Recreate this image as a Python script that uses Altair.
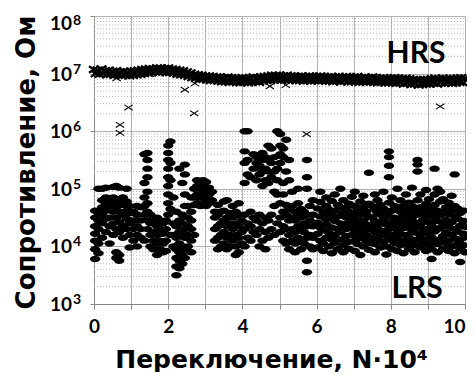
import altair as alt
import pandas as pd

# ---------------- data ----------------
# LRS: columns of points (cycle N·10^4, list of log10 R)
lrs_cols = [
    (0.03, [3.78, 3.95, 4.1, 4.22, 4.35, 4.5, 4.62]),
    (0.12, [3.88, 4.05, 4.3, 4.45, 4.58, 5.0]),
    (0.22, [4.15, 4.4, 4.55, 4.68, 4.8, 5.0]),
    (0.32, [4.25, 4.48, 4.62, 4.75, 4.85, 5.02]),
    (0.42, [4.05, 4.35, 4.5, 4.7, 4.82]),
    (0.52, [4.2, 4.4, 4.6, 4.75, 4.85, 5.03]),
    (0.60, [3.8, 3.9, 4.3, 4.5, 4.68, 4.8, 5.05]),
    (0.68, [3.75, 3.85, 4.25, 4.42, 4.6, 4.78, 5.02]),
    (0.78, [4.15, 4.35, 4.55, 4.72, 4.85]),
    (0.88, [4.3, 4.48, 4.62, 4.78, 5.0]),
    (0.96, [3.98, 4.2, 4.4, 4.58, 4.7]),
    (1.06, [4.1, 4.3, 4.45, 4.6]),
    (1.16, [4.0, 4.2, 4.35, 4.55, 4.7]),
    (1.26, [4.15, 4.3, 4.45, 4.68]),
    (1.36, [4.1, 4.55, 4.7, 4.85, 5.1, 5.6]),
    (1.44, [4.3, 4.45, 4.6, 4.75, 4.95, 5.2, 5.35, 5.5, 5.62]),
    (1.52, [4.0, 4.2, 4.4, 4.55]),
    (1.60, [3.95, 4.1, 4.25, 4.45]),
    (1.70, [3.85, 4.05, 4.2, 4.35, 4.5]),
    (1.78, [3.95, 4.1, 4.3, 4.45]),
    (1.86, [3.9, 4.05, 4.22, 4.4]),
    (1.94, [3.92, 4.1, 4.3, 4.45]),
    (2.00, [4.55, 4.75, 4.9, 5.05, 5.2, 5.35, 5.5, 5.62, 5.75]),
    (2.06, [4.2, 4.65, 5.15, 5.45, 5.82]),
    (2.14, [4.0, 4.2, 4.4, 4.85]),
    (2.22, [3.5, 3.65, 3.8, 3.95, 4.15, 4.35, 4.6]),
    (2.30, [3.62, 3.75, 3.9, 4.05, 4.25, 4.45, 5.35]),
    (2.38, [3.7, 3.85, 4.0, 4.2, 4.4, 4.55, 5.1]),
    (2.45, [3.8, 3.95, 4.15, 4.3, 4.7, 4.9, 5.25, 5.42]),
    (2.53, [4.0, 4.2, 4.35, 4.5, 4.7]),
    (2.62, [3.9, 4.1, 4.3, 4.45, 4.6, 4.85]),
    (2.70, [4.2, 4.72, 4.85, 5.0]),
    (2.78, [4.75, 4.9, 5.05, 5.15]),
    (2.86, [4.7, 4.85, 5.0, 5.1]),
    (2.94, [4.75, 4.9, 5.05, 5.15]),
    (3.02, [4.7, 4.82, 4.95, 5.12]),
    (3.10, [4.75, 4.9, 5.02]),
    (3.18, [4.8, 4.95]),
    (3.26, [4.1, 4.3, 4.5, 4.6]),
    (3.34, [3.95, 4.15, 4.35, 4.55, 4.72]),
    (3.42, [4.0, 4.2, 4.4, 4.6]),
    (3.50, [4.05, 4.25, 4.45, 4.62, 4.78]),
    (3.58, [3.95, 4.15, 4.35, 4.5, 4.8]),
    (3.66, [4.0, 4.2, 4.4, 4.58]),
    (3.74, [4.1, 4.3, 4.5, 4.7]),
    (3.82, [3.85, 4.0, 4.2, 4.4, 4.6]),
    (3.90, [3.9, 4.15, 4.35, 4.55, 4.75]),
    (3.98, [4.05, 4.25, 4.45]),
    (4.06, [4.0, 4.3, 4.55, 5.1, 5.45, 5.65, 6.0]),
    (4.14, [4.15, 4.4, 5.25, 5.5, 6.0]),
    (4.22, [4.1, 4.35, 4.6, 5.2]),
    (4.30, [4.25, 4.5, 5.35, 5.6]),
    (4.38, [4.2, 4.45, 5.15, 5.45, 5.55]),
    (4.46, [4.0, 4.3, 4.55, 5.25, 5.4]),
    (4.54, [4.1, 4.4, 5.05, 5.3, 5.5, 5.62]),
    (4.62, [3.95, 4.25, 4.5, 5.15, 5.35, 5.55]),
    (4.70, [4.15, 4.45, 5.1, 5.3, 5.5, 5.75]),
    (4.78, [4.3, 4.55, 5.2, 5.45, 5.7]),
    (4.86, [4.2, 4.7, 4.95, 5.3, 5.55]),
    (4.94, [4.4, 4.9, 5.15, 5.35, 6.0]),
    (5.02, [4.25, 4.5, 4.75, 5.45, 5.6, 5.75, 5.95]),
    (5.10, [4.1, 4.35, 4.6, 4.9, 5.1, 5.55, 5.7]),
    (5.18, [4.05, 4.3, 4.55, 4.72, 5.3, 5.85]),
    (5.26, [3.95, 4.2, 4.45, 4.65, 5.15, 5.5]),
    (5.34, [4.1, 4.3, 4.5, 4.7, 4.95]),
    (5.42, [3.9, 4.05, 4.25, 4.45, 4.6]),
    (5.50, [4.15, 4.35, 4.55, 4.75, 5.0]),
    (5.58, [3.95, 4.1, 4.3, 4.5, 4.65]),
    (5.66, [4.05, 4.25, 4.4, 4.6]),
    (5.74, [3.55, 3.75, 4.15, 4.35, 4.55, 5.0, 5.2, 5.5]),
    (5.82, [4.0, 4.2, 4.45, 4.7]),
    (5.90, [3.95, 4.15, 4.35, 4.55, 4.8]),
    (6.03, [3.98, 4.22, 4.41, 4.66]),
    (6.10, [4.1, 4.33, 4.52, 4.77, 4.95]),
    (6.18, [3.92, 4.05, 4.28, 4.6]),
    (6.26, [4.15, 4.38, 4.47, 4.7, 4.85]),
    (6.33, [4.0, 4.24, 4.56, 4.64]),
    (6.41, [3.88, 4.12, 4.33, 4.5, 4.79]),
    (6.49, [4.06, 4.2, 4.44, 4.62, 4.9]),
    (6.57, [3.95, 4.3, 4.52, 4.72]),
    (6.64, [4.12, 4.25, 4.4, 4.68, 5.0]),
    (6.72, [3.9, 4.02, 4.36, 4.58, 4.8]),
    (6.80, [4.18, 4.3, 4.5, 4.66]),
    (6.87, [3.96, 4.08, 4.42, 4.6, 4.74]),
    (6.95, [4.2, 4.35, 4.55, 4.86]),
    (7.03, [3.92, 4.1, 4.28, 4.47, 4.7, 4.95]),
    (7.10, [4.04, 4.22, 4.4, 4.62]),
    (7.18, [3.85, 4.15, 4.32, 4.55, 4.78]),
    (7.26, [4.0, 4.26, 4.45, 4.68, 4.88]),
    (7.34, [4.1, 4.2, 4.38, 4.6]),
    (7.41, [3.94, 4.06, 4.3, 4.52, 4.74, 5.28]),
    (7.49, [4.15, 4.36, 4.5, 4.7]),
    (7.57, [3.9, 4.04, 4.25, 4.44, 4.64, 4.9]),
    (7.64, [4.12, 4.32, 4.58, 4.8]),
    (7.72, [3.98, 4.18, 4.4, 4.55, 4.72]),
    (7.80, [4.08, 4.27, 4.46, 4.66, 4.95]),
    (7.88, [3.86, 4.0, 4.2, 4.38, 4.6]),
    (7.95, [4.12, 4.3, 4.52, 4.76, 5.2, 5.4, 5.55, 5.65]),
    (8.03, [3.95, 4.2, 4.42, 4.62, 4.85]),
    (8.10, [4.06, 4.34, 4.5, 4.7]),
    (8.18, [3.92, 4.14, 4.28, 4.48, 4.66, 5.0]),
    (8.26, [4.02, 4.22, 4.4, 4.6, 4.8]),
    (8.34, [3.88, 4.1, 4.32, 4.54, 4.7]),
    (8.41, [4.05, 4.2, 4.45, 4.64, 4.9]),
    (8.49, [3.96, 4.15, 4.36, 4.58, 4.76]),
    (8.57, [4.08, 4.28, 4.5, 4.7, 5.02]),
    (8.64, [3.9, 4.02, 4.24, 4.42, 4.62]),
    (8.72, [4.12, 4.34, 4.55, 4.8, 5.3, 5.42, 5.5]),
    (8.80, [3.98, 4.2, 4.38, 4.68, 4.9]),
    (8.87, [4.06, 4.26, 4.46, 4.6]),
    (8.95, [3.92, 4.12, 4.3, 4.52, 4.74, 4.98]),
    (9.03, [4.02, 4.22, 4.42, 4.64, 4.82]),
    (9.10, [3.78, 3.95, 4.16, 4.36, 4.56, 4.7]),
    (9.18, [4.08, 4.26, 4.5, 4.72, 4.9, 5.35]),
    (9.26, [3.9, 4.04, 4.3, 4.44, 4.62, 5.0]),
    (9.33, [4.12, 4.32, 4.54, 4.78, 4.95]),
    (9.41, [3.96, 4.18, 4.4, 4.6, 4.82]),
    (9.49, [4.06, 4.24, 4.46, 4.68]),
    (9.56, [3.92, 4.1, 4.34, 4.56, 4.76]),
    (9.64, [4.0, 4.2, 4.42, 4.62, 4.88]),
    (9.72, [3.88, 4.14, 4.3, 4.52, 4.7, 5.25]),
    (9.80, [4.04, 4.26, 4.48, 4.66]),
    (9.87, [3.73, 3.96, 4.12, 4.36, 4.58]),
    (9.95, [4.02, 4.22, 4.44, 4.62]),
    (10.0, [3.9, 4.16, 4.34]),
]

# HRS band: two interleaved rows, log10 R
hrs_a_x0, hrs_b_x0, hrs_step = 0.0, 0.05, 0.1
hrs_a = [7.07, 7.06, 7.08, 7.05, 7.06, 7.04, 7.05, 7.03, 7.04, 7.03,
         7.04, 7.05, 7.06, 7.07, 7.08, 7.09, 7.08, 7.10, 7.10, 7.09,
         7.10, 7.08, 7.07, 7.06, 7.05, 7.03, 7.01, 6.99, 6.98, 6.97,
         6.96, 6.96, 6.95, 6.94, 6.94, 6.93, 6.94, 6.93, 6.92, 6.92,
         6.93, 6.92, 6.93, 6.94, 6.93, 6.94, 6.95, 6.96, 6.97, 6.97,
         6.97, 6.96, 6.97, 6.96, 6.96, 6.95, 6.96, 6.95, 6.96, 6.95,
         6.95, 6.96, 6.95, 6.94, 6.95, 6.94, 6.95, 6.94, 6.95, 6.94,
         6.94, 6.95, 6.93, 6.94, 6.93, 6.94, 6.93, 6.92, 6.93, 6.92,
         6.92, 6.93, 6.92, 6.91, 6.92, 6.91, 6.90, 6.89, 6.89, 6.90,
         6.90, 6.91, 6.92, 6.91, 6.92, 6.91, 6.92, 6.91, 6.92, 6.93,
         6.92]
hrs_b = [7.00, 6.99, 7.00, 6.98, 6.99, 6.97, 6.98, 6.96, 6.97, 6.96,
         6.97, 6.98, 6.99, 7.00, 7.01, 7.02, 7.03, 7.02, 7.03, 7.02,
         7.02, 7.01, 6.99, 6.98, 6.97, 6.95, 6.93, 6.92, 6.90, 6.90,
         6.89, 6.88, 6.88, 6.87, 6.86, 6.86, 6.85, 6.86, 6.85, 6.84,
         6.85, 6.84, 6.85, 6.86, 6.85, 6.87, 6.88, 6.88, 6.89, 6.90,
         6.89, 6.89, 6.88, 6.89, 6.88, 6.88, 6.87, 6.88, 6.87, 6.88,
         6.87, 6.88, 6.87, 6.87, 6.86, 6.87, 6.86, 6.87, 6.86, 6.86,
         6.86, 6.85, 6.86, 6.85, 6.86, 6.85, 6.84, 6.85, 6.84, 6.84,
         6.84, 6.83, 6.84, 6.82, 6.83, 6.81, 6.82, 6.80, 6.81, 6.82,
         6.82, 6.83, 6.82, 6.84, 6.83, 6.84, 6.83, 6.84, 6.85, 6.84]
# HRS outliers
hrs_out_x = [0.61, 0.70, 0.70, 0.93, 1.50, 2.45, 2.72, 2.70, 4.74, 5.17, 5.73, 9.33]
hrs_out_y = [6.92, 6.11, 5.97, 6.41, 6.99, 6.72, 6.83, 6.31, 6.78, 6.80, 5.95, 6.43]

labels = ["HRS", "LRS"]
label_x = [8.68, 8.71]
label_y = [7.34, 3.26]

x_ticks = list(range(0, 11))
decades = [3, 4, 5, 6, 7, 8]
exponents = ["3", "4", "5", "6", "7", "8"]

# ---------------- frames ----------------
lrs_df = pd.DataFrame(
    [{"n": x, "r": 10 ** v} for x, vals in lrs_cols for v in vals]
)
band_rows = [{"n": round(hrs_a_x0 + i * hrs_step, 3), "r": 10 ** v} for i, v in enumerate(hrs_a)]
band_rows += [{"n": round(hrs_b_x0 + i * hrs_step, 3), "r": 10 ** v} for i, v in enumerate(hrs_b)]
band_df = pd.DataFrame(band_rows)
out_df = pd.DataFrame({"n": hrs_out_x, "r": [10 ** v for v in hrs_out_y]})
lab_df = pd.DataFrame({"t": labels, "n": label_x, "r": [10 ** v for v in label_y]})
minor_df = pd.DataFrame({"r": [m * 10 ** d for d in decades[:-1] for m in range(2, 10)]})
ylab_df = pd.DataFrame({"r": [10 ** d for d in decades], "e": exponents,
                        "top": [d == decades[-1] for d in decades]})

FONT = "Lato"
TFONT = "DejaVu Sans"
xs = alt.Scale(domain=[0, 10], nice=False, zero=False)
ys = alt.Scale(type="log", domain=[1e3, 1e8], nice=False)

ax_x = alt.Axis(
    values=x_ticks, grid=True, gridColor="#b0b0b0", gridWidth=1,
    labelExpr="datum.value % 2 == 0 ? datum.label : ''",
    labelAlign={"condition": {"test": "datum.value == 10", "value": "right"}, "value": "center"},
    labelOffset={"condition": {"test": "datum.value == 10", "value": 0}, "value": 0},
    tickSize=5, tickColor="#888", domainColor="#888",
    labelFont=FONT, labelFontSize=19, labelFontWeight="bold", labelColor="black",
    labelPadding=8, labelFlush=False,
    title="Переключение, N·10⁴", titleFont=TFONT, titleFontSize=25,
    titleFontWeight="bold", titleColor="black", titleX=177, titleY=63,
    titleBaseline="alphabetic", titleAlign="center",
)
ax_y = alt.Axis(
    values=[10 ** d for d in decades], grid=True, gridColor="#b0b0b0", gridWidth=1,
    labels=False, tickSize=4, tickColor="#888", domainColor="#888",
    title="Сопротивление, Ом", titleFont=TFONT, titleFontSize=26,
    titleFontWeight="bold", titleColor="black", titleX=-55, titleY=146,
    titleAlign="center", titleBaseline="bottom", titleAngle=-90,
)

X = alt.X("n:Q", scale=xs, axis=ax_x)
Y = alt.Y("r:Q", scale=ys, axis=ax_y)

minor = alt.Chart(minor_df).mark_rule(
    color="#b8b8b8", strokeDash=[1, 2], strokeWidth=1
).encode(y=Y, x=alt.value(0), x2=alt.value(371))

ellipse = "M-1,0A1,0.62,0,1,0,1,0A1,0.62,0,1,0,-1,0Z"
cross = "M-1,-0.65L1,0.65M-1,0.65L1,-0.65"

lrs = alt.Chart(lrs_df).mark_point(
    shape=ellipse, filled=True, color="black", size=108, opacity=1
).encode(x=X, y=Y)

band = alt.Chart(band_df).mark_point(
    shape=cross, filled=False, color="black", size=100, strokeWidth=2.3, opacity=1
).encode(x=X, y=Y)

outl = alt.Chart(out_df).mark_point(
    shape=cross, filled=False, color="black", size=70, strokeWidth=1.1, opacity=1
).encode(x=X, y=Y)

txt = alt.Chart(lab_df).mark_text(
    font=FONT, fontSize=30, fontWeight="bold", color="black", align="center", baseline="middle"
).encode(x=X, y=Y, text="t:N")

ybase = alt.Chart(ylab_df)
y10 = ybase.transform_filter("!datum.top").mark_text(
    font=FONT, fontSize=19, fontWeight="bold", color="black", align="right", baseline="middle", dy=1
).encode(x=alt.value(-22), y=Y, text=alt.value("10"))
yexp = ybase.transform_filter("!datum.top").mark_text(
    font=FONT, fontSize=14, fontWeight="bold", color="black", align="left", baseline="middle", dy=-4
).encode(x=alt.value(-21), y=Y, text="e:N")
y10t = ybase.transform_filter("datum.top").mark_text(
    font=FONT, fontSize=19, fontWeight="bold", color="black", align="right", baseline="middle", dy=8
).encode(x=alt.value(-22), y=Y, text=alt.value("10"))
yexpt = ybase.transform_filter("datum.top").mark_text(
    font=FONT, fontSize=14, fontWeight="bold", color="black", align="left", baseline="middle", dy=5
).encode(x=alt.value(-21), y=Y, text="e:N")

chart = alt.layer(minor, lrs, band, outl, txt, y10, yexp, y10t, yexpt).properties(
    width=371, height=288,
    padding={"left": 86, "top": 8, "right": 2, "bottom": 68},
    autosize=alt.AutoSizeParams(type="none"),
).configure_view(stroke=None).configure_axis(labelOverlap=False)

chart.save("out.html", embed_options={"renderer": "svg", "actions": False})
